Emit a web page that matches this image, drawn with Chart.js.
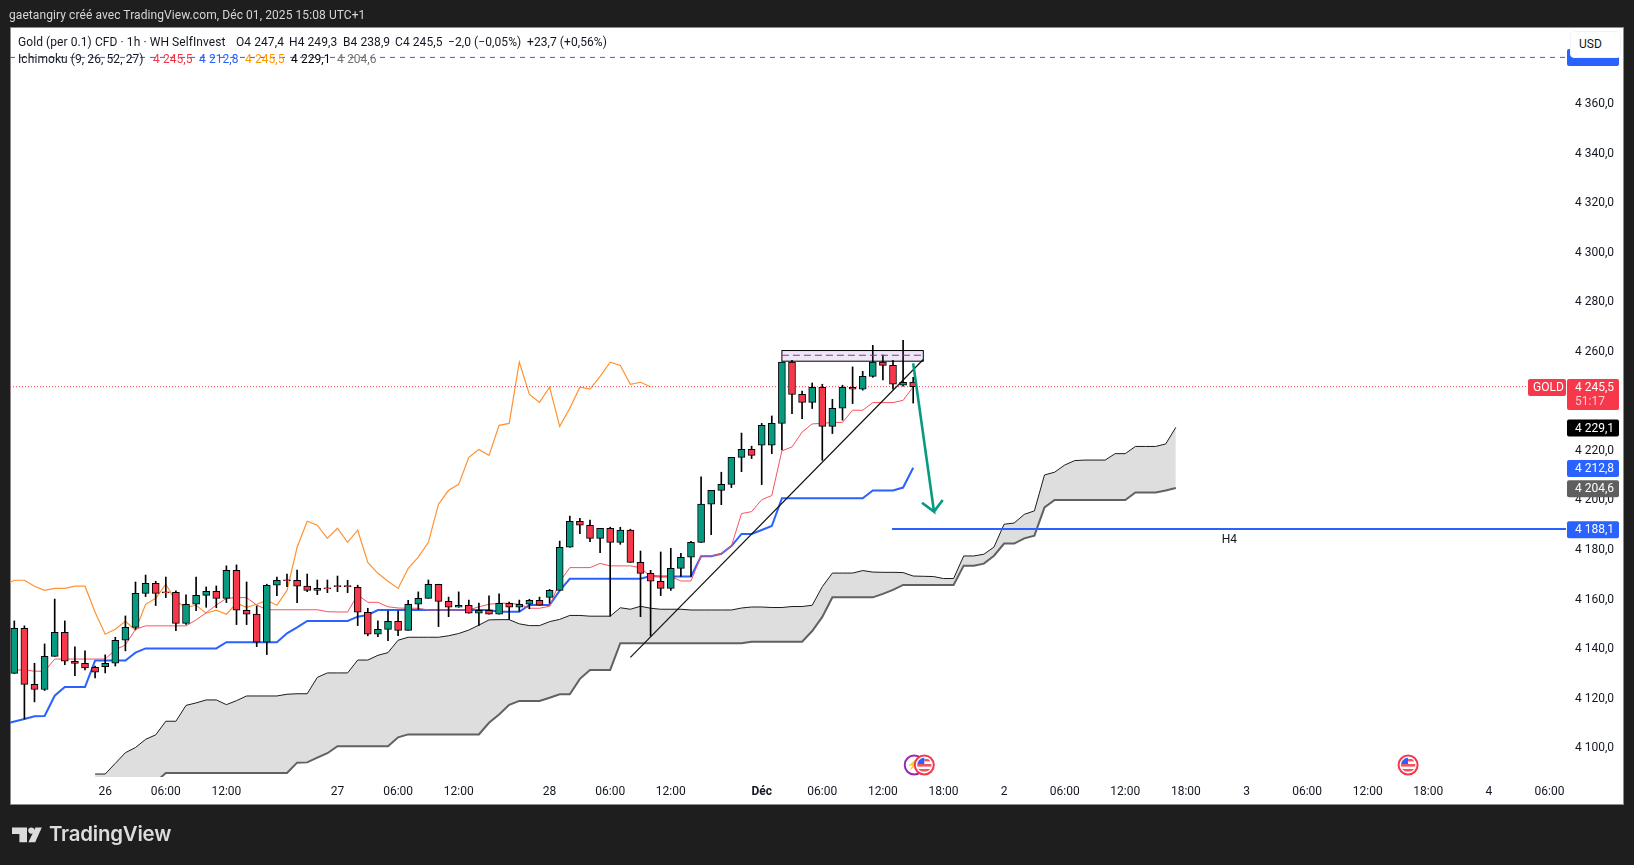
<!DOCTYPE html>
<html>
<head>
<meta charset="utf-8">
<title>Gold 1h</title>
<script src="https://cdn.jsdelivr.net/npm/chart.js@4/dist/chart.umd.min.js"></script>
<style>
    html, body { margin: 0; padding: 0; background: #1e1e1e; overflow: hidden; }
    body { width: 1634px; height: 865px; position: relative; font-family: Roboto, sans-serif; font-size: 12px; }
    #panel { position: absolute; left: 10px; top: 27px; width: 1612px; height: 776px; background: #fff; border: 1px solid #8c8c8c; }
    #c { position: absolute; left: 0; top: 0; }
    .txt { position: absolute; white-space: pre; line-height: 14px; color: #131722; letter-spacing: 0.08px; }
    #usd { position: absolute; left: 1570px; top: 31px; width: 49px; height: 25px; background: #fff; border: 1px solid #f0f3fa; border-radius: 4px; line-height: 25px; color: #131722; box-sizing: content-box; }
    #usd span { margin-left: 8px; }
    #brand { position: absolute; left: 49px; top: 822px; color: #dcdcdc; font-family: Inter, sans-serif; font-weight: 600; font-size: 20.4px; line-height: 24px; letter-spacing: -0.2px; }
    #logo { position: absolute; left: 0; top: 0; }
</style>
</head>
<body>
<div id="panel"></div>
<canvas id="c" width="1634" height="865"></canvas>

<div class="txt" style="left:9px;top:8px;color:#d6d6d6">gaetangiry créé avec TradingView.com, Déc 01, 2025 15:08 UTC+1</div>

<div class="txt" style="left:18px;top:35px">Gold (per 0.1) CFD · 1h · WH SelfInvest</div>
<div class="txt" style="left:236px;top:35px">O4 247,4</div>
<div class="txt" style="left:289px;top:35px">H4 249,3</div>
<div class="txt" style="left:343px;top:35px">B4 238,9</div>
<div class="txt" style="left:395px;top:35px">C4 245,5</div>
<div class="txt" style="left:448px;top:35px">−2,0 (−0,05%)</div>
<div class="txt" style="left:527px;top:35px">+23,7 (+0,56%)</div>

<div class="txt" style="left:18px;top:52px">Ichimoku (9, 26, 52, 27)</div>
<div class="txt" style="left:153px;top:52px;color:#f23645">4 245,5</div>
<div class="txt" style="left:199px;top:52px;color:#2962ff">4 212,8</div>
<div class="txt" style="left:245px;top:52px;color:#ff9800">4 245,5</div>
<div class="txt" style="left:291px;top:52px;color:#000">4 229,1</div>
<div class="txt" style="left:337px;top:52px;color:#757575">4 204,6</div>

<div id="usd"><span>USD</span></div>

<svg id="logo" width="60" height="865" style="position:absolute;left:0;top:0">
    <path d="M12 827.5h15v14.8h-7.6v-8.2H12z" fill="#dcdcdc"/>
    <circle cx="31.3" cy="830.6" r="3.1" fill="#dcdcdc"/>
    <path d="M35.4 827.5h6.4l-6.6 14.8h-6.8z" fill="#dcdcdc"/>
</svg>
<div id="brand">TradingView</div>

<script>
// one-hour candles, first one sits on the left edge of the pane
const opens = [
    4129.8,4148.0,4125.4,4123.3,4136.7,4146.4,4134.7,4133.9,4132.3,4132.5,
    4133.9,4143.2,4148.4,4162.1,4166.2,4162.7,4162.5,4150.0,4157.7,4161.3,
    4162.9,4160.1,4171.4,4155.3,4153.7,4142.4,4165.4,4167.6,4167.4,4165.0,
    4163.3,4164.3,4165.2,4165.2,4164.5,4154.5,4145.6,4147.6,4150.8,4147.2,
    4157.7,4160.1,4165.8,4158.9,4156.5,4157.3,4154.1,4155.3,4153.7,4158.1,
    4156.5,4157.7,4159.3,4160.5,4163.3,4180.7,4191.2,4189.6,4184.3,4188.4,
    4182.7,4187.6,4174.6,4170.2,4167.0,4164.1,4172.2,4176.7,4182.7,4198.1,
    4203.7,4206.1,4217.0,4220.2,4221.9,4221.9,4230.7,4255.4,4242.4,4239.2,
    4245.3,4229.5,4236.8,4245.3,4244.5,4249.7,4255.4,4254.1,4246.1,4247.4
];
const closes = [
    4148.0,4125.4,4123.3,4136.7,4146.4,4134.7,4133.8,4132.0,4130.3,4133.9,
    4143.2,4148.4,4162.1,4166.2,4162.1,4162.3,4150.0,4157.7,4161.3,4162.9,
    4160.1,4171.4,4155.3,4153.7,4142.4,4165.4,4167.4,4167.2,4165.0,4163.3,
    4164.1,4163.9,4164.8,4164.8,4154.5,4145.6,4147.6,4150.8,4147.2,4157.7,
    4160.1,4165.8,4158.9,4156.5,4157.3,4154.1,4155.3,4153.7,4158.1,4156.5,
    4157.7,4159.3,4157.3,4163.3,4180.7,4191.2,4189.6,4184.3,4188.4,4182.7,
    4187.6,4174.6,4170.2,4167.0,4164.1,4172.2,4176.7,4182.7,4198.1,4203.7,
    4206.1,4217.0,4220.2,4217.8,4229.9,4230.7,4255.4,4242.4,4239.2,4245.3,
    4229.5,4236.8,4245.3,4244.5,4249.7,4255.4,4254.1,4246.5,4247.3,4245.5
];
const highs = [
    4151.0,4149.0,4133.9,4141.7,4159.8,4151.0,4140.5,4138.9,4132.8,4137.3,
    4144.4,4153.0,4166.7,4169.5,4167.0,4168.7,4163.1,4161.5,4168.7,4164.7,
    4165.1,4173.2,4173.6,4166.7,4157.0,4165.8,4168.7,4169.9,4171.5,4169.9,
    4167.5,4167.5,4169.1,4167.4,4165.4,4156.1,4151.0,4155.0,4155.0,4159.3,
    4162.7,4167.5,4165.8,4160.6,4162.7,4159.4,4158.2,4161.1,4161.9,4158.6,
    4159.4,4159.7,4160.6,4163.7,4183.2,4193.3,4192.4,4191.7,4188.4,4188.8,
    4188.8,4188.0,4179.2,4171.4,4178.8,4180.3,4178.3,4183.1,4209.1,4203.7,
    4211.0,4217.0,4226.8,4221.5,4230.7,4233.7,4255.4,4256.2,4243.7,4247.0,
    4246.5,4240.4,4246.1,4253.5,4251.7,4262.2,4258.3,4256.2,4264.2,4249.3
];
const lows = [
    4129.8,4111.4,4118.3,4122.9,4136.7,4133.3,4128.9,4131.2,4128.0,4130.0,
    4132.8,4138.9,4147.6,4160.8,4157.2,4160.4,4147.1,4149.6,4155.1,4156.5,
    4156.3,4158.4,4149.5,4149.5,4140.6,4137.4,4161.2,4164.8,4158.4,4162.8,
    4161.6,4162.4,4162.8,4162.4,4149.1,4145.0,4144.6,4143.0,4145.0,4147.2,
    4155.7,4160.1,4148.7,4152.7,4156.5,4154.1,4149.2,4153.7,4153.7,4151.6,
    4154.9,4155.9,4157.3,4158.1,4163.3,4180.7,4186.2,4183.0,4178.5,4152.9,
    4181.9,4174.6,4152.7,4144.9,4161.2,4163.3,4168.9,4168.9,4182.7,4185.8,
    4197.9,4204.8,4211.2,4216.5,4206.0,4218.5,4220.0,4234.6,4232.6,4236.7,
    4215.8,4226.6,4232.0,4238.7,4244.1,4249.3,4248.2,4244.5,4245.7,4238.9
];

// ichimoku lines, these start one bar before the first visible candle
const tenkan = [
    4131.5,
    4131.2,4131.2,4130.7,4130.7,4135.6,4135.6,4135.6,4135.6,4135.6,4135.6,
    4139.3,4141.3,4147.6,4149.0,4149.0,4149.0,4149.0,4149.0,4151.4,4154.3,
    4157.4,4160.1,4160.4,4160.4,4157.4,4155.5,4155.5,4155.5,4155.5,4155.5,
    4155.5,4154.7,4154.6,4154.6,4161.5,4158.5,4158.5,4156.7,4156.2,4156.1,
    4156.1,4155.4,4155.4,4155.4,4155.4,4155.4,4156.7,4157.7,4158.1,4158.1,
    4157.7,4156.1,4156.1,4156.9,4166.8,4172.5,4172.5,4172.5,4174.2,4173.2,
    4173.2,4173.2,4172.5,4168.9,4168.9,4168.9,4167.1,4167.1,4177.2,4177.2,
    4178.1,4181.2,4194.3,4195.1,4199.9,4201.6,4219.6,4221.2,4227.2,4230.5,
    4230.7,4231.1,4231.1,4236.0,4236.0,4239.1,4239.1,4239.1,4240.0,4245.5
];
const kijun = [
    4109.3,
    4110.4,4111.4,4112.5,4112.6,4120.8,4124.3,4124.3,4124.3,4135.0,4135.0,
    4135.0,4135.0,4138.2,4139.9,4139.9,4139.9,4139.9,4139.9,4139.9,4139.9,
    4139.9,4142.4,4142.4,4142.4,4142.4,4142.4,4142.4,4146.0,4148.4,4151.0,
    4151.0,4151.0,4151.0,4151.0,4152.7,4153.4,4155.4,4155.4,4155.4,4155.4,
    4155.4,4155.4,4155.4,4155.4,4155.4,4155.4,4155.4,4155.4,4154.7,4154.7,
    4154.7,4157.4,4157.4,4157.4,4163.2,4168.0,4168.0,4168.0,4168.0,4168.0,
    4168.0,4168.0,4168.0,4169.1,4168.9,4168.9,4168.9,4168.9,4177.1,4177.1,
    4178.1,4181.2,4186.1,4186.1,4187.7,4189.3,4200.5,4200.5,4200.5,4200.5,
    4200.5,4200.5,4200.5,4200.5,4200.5,4203.6,4203.6,4203.6,4204.8,4212.8
];
const chikou = [
    4165.4,
    4167.4,4167.4,4165.0,4163.3,4164.1,4164.1,4165.0,4165.0,4154.5,4145.6,
    4147.6,4150.8,4147.2,4157.7,4160.1,4165.8,4158.9,4156.5,4157.3,4154.1,
    4155.3,4153.7,4158.1,4156.5,4157.7,4159.3,4157.3,4163.3,4180.7,4191.2,
    4189.6,4184.3,4188.4,4182.7,4187.6,4174.6,4170.2,4167.0,4164.1,4172.2,
    4176.7,4182.7,4198.1,4203.7,4206.1,4217.0,4220.2,4217.8,4229.9,4230.7,
    4255.4,4242.4,4239.2,4245.3,4229.5,4236.8,4245.3,4244.5,4249.7,4255.4,
    4254.1,4246.5,4247.3,4245.5
];
// cloud, runs from bar 8 up to 26 bars past the last candle
const spanA = [
    4089.2,4089.2,
    4093.5,4097.8,4099.9,4103.2,4105.0,4110.5,4110.5,4116.9,4117.9,4119.1,
    4119.1,4117.2,4118.8,4120.7,4120.7,4120.7,4120.7,4121.4,4121.6,4121.6,
    4128.2,4130.0,4130.0,4130.0,4135.2,4135.2,4137.1,4138.2,4143.2,4144.4,
    4144.4,4144.4,4144.4,4145.0,4145.9,4147.3,4149.3,4151.4,4151.5,4151.5,
    4149.8,4149.1,4149.1,4150.7,4151.6,4153.2,4153.2,4152.9,4152.9,4152.9,
    4156.3,4155.7,4156.9,4156.1,4155.7,4155.7,4155.7,4155.4,4155.4,4155.4,
    4155.4,4155.4,4156.2,4156.6,4156.6,4156.4,4156.4,4156.8,4156.8,4157.3,
    4164.8,4170.3,4170.3,4170.3,4171.3,4170.7,4170.6,4170.6,4170.5,4169.1,
    4169.0,4168.9,4168.1,4168.1,4177.2,4177.2,4177.9,4180.8,4190.0,4190.5,
    4194.0,4195.4,4209.9,4211.0,4213.9,4215.7,4215.9,4215.9,4215.9,4218.5,
    4218.5,4221.4,4221.4,4221.4,4222.4,4229.1
];
const spanB = [
    4086.0,4086.0,
    4086.0,4086.0,4086.0,4086.0,4086.0,4089.6,4089.6,4089.6,4089.6,4089.6,
    4089.6,4089.6,4089.6,4089.6,4089.6,4089.6,4089.6,4089.6,4093.8,4093.9,
    4095.8,4097.6,4100.4,4100.4,4100.4,4100.4,4100.4,4100.4,4104.0,4105.2,
    4105.2,4105.2,4105.2,4105.2,4105.2,4105.2,4105.2,4109.9,4113.2,4117.1,
    4118.7,4118.7,4118.7,4120.0,4121.4,4121.4,4127.6,4131.2,4131.2,4131.2,
    4142.0,4142.0,4142.0,4142.0,4142.0,4142.0,4142.0,4142.0,4142.0,4142.0,
    4142.0,4142.0,4142.0,4142.6,4142.6,4142.6,4142.6,4142.6,4142.6,4146.9,
    4152.6,4160.5,4160.5,4160.5,4160.5,4160.5,4161.9,4163.5,4165.5,4165.5,
    4165.5,4165.5,4165.5,4165.5,4173.3,4173.3,4174.1,4177.3,4182.2,4182.2,
    4184.3,4185.4,4196.8,4199.8,4199.8,4199.8,4199.8,4199.8,4199.8,4199.8,
    4199.8,4202.8,4202.8,4202.8,4203.6,4204.6
];

// axes
const priceTicks = [4100,4120,4140,4160,4180,4200,4220,4240,4260,4280,4300,4320,4340,4360];
const timeTickBars = [9,15,21,32,38,44,53,59,65,74,80,86,92,98,104,110,116,122,128,134,140,146,152];
const timeTickLabels = ['26','06:00','12:00','27','06:00','12:00','28','06:00','12:00','Déc','06:00','12:00','18:00','2','06:00','12:00','18:00','3','06:00','12:00','18:00','4','06:00'];

// drawings on the chart
const trendBars = [61, 90];
const trendPrices = [4136.3, 4256.5];
const arrowBars = [89, 91.06, 89.87, 91.06, 91.92];
const arrowPrices = [4254.9, 4195.1, 4198.7, 4195.1, 4199.8];
const zoneBars = [76, 90];
const zonePrices = [4260.1, 4258.2, 4255.8]; // top, dashed middle, bottom
const h4Level = 4188.1;
const h4StartBar = 86.9;
const h4LabelBar = 120.3;
const lastPrice = 4245.5;
const lastPriceEndBar = 149.9;
const topAlertLevel = 4378.4;
const eventBars = [89.1, 90.1, 138];

const priceTags = [
    { price: 4229.1, text: '4 229,1', color: '#000000' },
    { price: 4212.8, text: '4 212,8', color: '#2962ff' },
    { price: 4204.6, text: '4 204,6', color: '#5f5f5f' },
    { price: 4188.1, text: '4 188,1', color: '#2962ff' }
];

const green = '#089981';
const red = '#f7374a';
const blue = '#2962ff';
const xMin = -0.4257, xMax = 153.634;

function pts(values, start) {
    return values.map((v, i) => ({ x: i + start, y: v }));
}
function pairs(xs, ys) {
    return xs.map((x, i) => ({ x: x, y: ys[i] }));
}
function lineSet(data, color, width, order, extra) {
    return Object.assign({
        type: 'line', data: data, borderColor: color, borderWidth: width,
        pointRadius: 0, tension: 0, fill: false, order: order
    }, extra || {});
}

function roundRect(ctx, x, y, w, h, r) {
    ctx.beginPath();
    ctx.roundRect(x, y, w, h, r);
    ctx.fill();
}

// zone box, axis tags and the calendar event marks
const overlay = {
    id: 'overlay',
    afterDatasetsDraw(chart) {
        const ctx = chart.ctx, x = chart.scales.x, y = chart.scales.y;
        ctx.save();
        const zl = x.getPixelForValue(zoneBars[0]), zr = x.getPixelForValue(zoneBars[1]);
        const zt = y.getPixelForValue(zonePrices[0]), zb = y.getPixelForValue(zonePrices[2]);
        ctx.fillStyle = 'rgba(103,58,183,0.12)';
        ctx.fillRect(zl, zt, zr - zl, zb - zt);
        ctx.strokeStyle = '#000';
        ctx.lineWidth = 1;
        ctx.strokeRect(zl, zt, zr - zl, zb - zt);
        ctx.strokeStyle = '#9c27b0';
        ctx.setLineDash([7, 4]);
        ctx.beginPath();
        ctx.moveTo(zl, y.getPixelForValue(zonePrices[1]));
        ctx.lineTo(zr, y.getPixelForValue(zonePrices[1]));
        ctx.stroke();
        ctx.setLineDash([]);

        // events
        eventBars.forEach((b, i) => {
            const cx = x.getPixelForValue(b), cy = 765;
            ctx.lineWidth = 2;
            ctx.beginPath();
            ctx.arc(cx, cy, 9.5, 0, Math.PI * 2);
            if (i === 0) {
                ctx.strokeStyle = '#9c27b0';
                ctx.stroke();
                ctx.fillStyle = '#9c27b0';
                ctx.font = '10px Roboto';
                ctx.textAlign = 'center';
                ctx.textBaseline = 'middle';
                ctx.fillText('⚡', cx - 1, cy);
                return;
            }
            ctx.fillStyle = '#fff';
            ctx.fill();
            ctx.strokeStyle = '#f7374a';
            ctx.stroke();
            ctx.save();
            ctx.beginPath();
            ctx.arc(cx, cy, 7.2, 0, Math.PI * 2);
            ctx.clip();
            ctx.fillStyle = '#fff';
            ctx.fillRect(cx - 8, cy - 8, 16, 16);
            ctx.fillStyle = '#f7525f';
            ctx.fillRect(cx - 8, cy - 1, 16, 2.6);
            ctx.fillRect(cx - 8, cy + 4, 16, 2.6);
            ctx.fillRect(cx, cy - 6, 8, 2.4);
            ctx.fillStyle = '#2962ff';
            ctx.fillRect(cx - 8, cy - 8, 8, 7);
            ctx.restore();
        });

        // H4 label under the level line
        ctx.font = '12px Roboto';
        ctx.textBaseline = 'middle';
        ctx.textAlign = 'center';
        ctx.fillStyle = '#131722';
        ctx.fillText('H4', x.getPixelForValue(h4LabelBar), y.getPixelForValue(h4Level) + 11);

        // tags on the price axis
        ctx.textAlign = 'left';
        const tagX = 1567, tagW = 52, tagH = 17;
        priceTags.forEach(t => {
            const py = y.getPixelForValue(t.price) + 0.7;
            ctx.fillStyle = t.color;
            roundRect(ctx, tagX, py - tagH / 2, tagW, tagH, 2);
            ctx.fillStyle = '#fff';
            ctx.fillText(t.text, 1575, py + 0.5);
        });
        const ly = y.getPixelForValue(lastPrice) + 0.7;
        ctx.fillStyle = red;
        roundRect(ctx, tagX, ly - 8.5, tagW, 31, 2);
        roundRect(ctx, 1528, ly - 8.5, 38, 17, 2);
        ctx.fillStyle = '#fff';
        ctx.fillText('4 245,5', 1575, ly + 0.5);
        ctx.fillText('GOLD', 1533, ly + 0.5);
        ctx.fillStyle = 'rgba(255,255,255,0.75)';
        ctx.fillText('51:17', 1575, ly + 14.5);

        // alert tag, almost hidden under the USD button
        ctx.fillStyle = blue;
        roundRect(ctx, tagX, y.getPixelForValue(topAlertLevel) - 8.5, tagW, 17, 2);
        ctx.restore();
    }
};

const candleBars = opens.map((o, i) => ({ x: i, y: [o, closes[i]] }));
const wickBars = highs.map((h, i) => ({ x: i, y: [lows[i], h] }));
const candleColors = opens.map((o, i) => closes[i] >= o ? green : red);

new Chart(document.getElementById('c').getContext('2d'), {
    type: 'bar',
    data: {
        datasets: [
            lineSet(pts(spanA, 8), '#1c1c1c', 1, 12, { fill: { target: 1 }, backgroundColor: '#dedede' }),
            lineSet(pts(spanB, 8), '#616161', 2, 11),
            lineSet(pts(chikou, -1), '#ff9232', 1.2, 10),
            lineSet(pts(kijun, -1), blue, 2, 9),
            lineSet(pts(tenkan, -1), '#f7525f', 1, 8),
            lineSet(pairs([xMin, lastPriceEndBar], [lastPrice, lastPrice]), '#f7374a', 1, 7, { borderDash: [1, 2] }),
            lineSet(pairs([xMin, xMax], [topAlertLevel, topAlertLevel]), blue, 1, 7, { borderDash: [5, 5] }),
            lineSet(pairs([h4StartBar, xMax], [h4Level, h4Level]), blue, 2, 6),
            { type: 'bar', data: wickBars, backgroundColor: '#000', borderWidth: 0, barThickness: 1, grouped: false, order: 4 },
            { type: 'bar', data: candleBars, backgroundColor: candleColors, borderColor: '#000', borderWidth: 1, borderSkipped: false, barThickness: 7, grouped: false, order: 3 },
            lineSet(pairs(trendBars, trendPrices), '#111111', 1.2, 2),
            lineSet(pairs(arrowBars, arrowPrices), green, 2.6, 1)
        ]
    },
    options: {
        responsive: false,
        animation: false,
        devicePixelRatio: 1,
        layout: { padding: { left: 10, top: 27, right: 10, bottom: 61 } },
        plugins: { legend: { display: false }, tooltip: { enabled: false } },
        events: [],
        scales: {
            x: {
                type: 'linear',
                offset: false,
                min: xMin,
                max: xMax,
                grid: { display: false, drawTicks: false },
                border: { display: false },
                afterFit: axis => { axis.height = 27; },
                afterBuildTicks: axis => { axis.ticks = timeTickBars.map(v => ({ value: v })); },
                ticks: {
                    autoSkip: false,
                    maxRotation: 0,
                    padding: 8,
                    color: '#131722',
                    font: ctx => ({ family: 'Roboto', size: 12, weight: ctx.tick && ctx.tick.label === 'Déc' ? 'bold' : 'normal' }),
                    callback: v => timeTickLabels[timeTickBars.indexOf(v)]
                }
            },
            y: {
                type: 'linear',
                position: 'right',
                min: 4088,
                max: 4390.67,
                grid: { display: false, drawTicks: false },
                border: { display: false },
                afterFit: axis => { axis.width = 58; },
                afterBuildTicks: axis => { axis.ticks = priceTicks.map(v => ({ value: v })); },
                ticks: {
                    padding: 9,
                    labelOffset: 1,
                    color: '#131722',
                    font: { family: 'Roboto', size: 12 },
                    callback: v => '4 ' + String(v).slice(1) + ',0'
                }
            }
        }
    },
    plugins: [overlay]
});
</script>
</body>
</html>
